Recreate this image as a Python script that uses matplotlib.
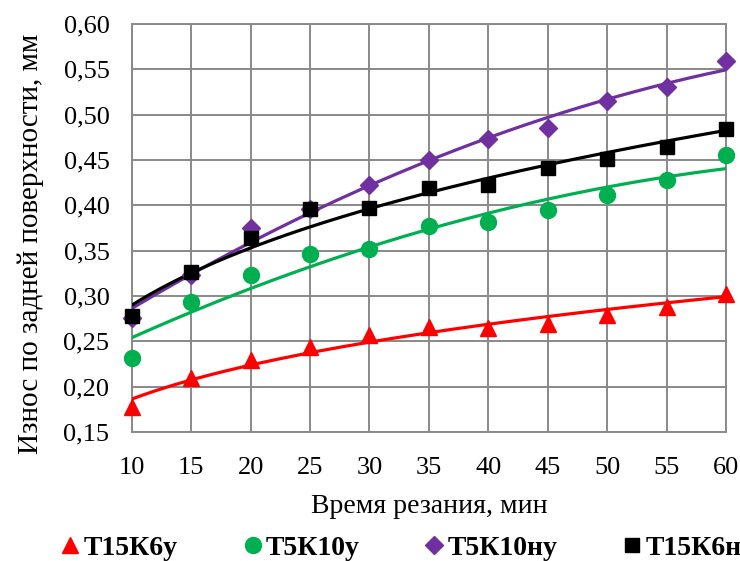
import numpy as np
import matplotlib
matplotlib.use('Agg')
import matplotlib.pyplot as plt
from matplotlib.ticker import FuncFormatter

plt.rcParams['font.family'] = ['Liberation Serif', 'DejaVu Serif']

time_min = [10, 15, 20, 25, 30, 35, 40, 45, 50, 55, 60]
t15k6u = [0.178, 0.210, 0.229, 0.244, 0.257, 0.266, 0.265, 0.269, 0.279, 0.288, 0.302]
t5k10u = [0.232, 0.293, 0.323, 0.346, 0.352, 0.377, 0.382, 0.395, 0.411, 0.428, 0.456]
t5k10nu = [0.276, 0.323, 0.375, 0.396, 0.422, 0.450, 0.473, 0.485, 0.515, 0.531, 0.559]
t15k6nu = [0.278, 0.326, 0.364, 0.396, 0.397, 0.419, 0.422, 0.441, 0.451, 0.464, 0.484]

names = ['Т15К6у', 'Т5К10у', 'Т5К10ну', 'Т15К6ну']
colors = ['#FF0000', '#00B050', '#7030A0', '#000000']
markers = ['^', 'o', 'D', 's']
msizes = [11, 11.5, 9, 10]
fits = ['power', 'poly2', 'poly2', 'power']   # trend line type per series
series = [t15k6u, t5k10u, t5k10nu, t15k6nu]

fig = plt.figure(figsize=(7.4, 5.61), dpi=100)
ax = fig.add_axes([0.178, 0.23, 0.803, 0.727])

x = np.array(time_min, dtype=float)
xs = np.linspace(10, 60, 200)
for vals, c, f in zip(series, colors, fits):
    y = np.array(vals)
    if f == 'power':
        b, a = np.polyfit(np.log(x), np.log(y), 1)
        ys = np.exp(a) * xs ** b
    else:
        ys = np.polyval(np.polyfit(x, y, 2), xs)
    ax.plot(xs, ys, color=c, lw=2.3, zorder=3)

handles = []
for vals, c, m, ms, n in zip(series, colors, markers, msizes, names):
    h, = ax.plot(time_min, vals, ls='none', marker=m, ms=ms, color=c,
                 label=n, zorder=4, clip_on=False)
    handles.append(h)

ax.set_xlim(10, 60)
ax.set_ylim(0.15, 0.60)
ax.set_xticks(range(10, 61, 5))
ax.set_yticks(np.arange(0.15, 0.601, 0.05))
ax.yaxis.set_major_formatter(FuncFormatter(lambda v, pos: f'{v:.2f}'.replace('.', ',')))
ax.grid(True, color='#898989', lw=1.4)
ax.set_axisbelow(True)
for s in ax.spines.values():
    s.set_color('#898989')
    s.set_linewidth(1.4)
ax.tick_params(length=0, labelsize=19)
ax.tick_params(axis='y', pad=16)
ax.tick_params(axis='x', pad=18)

ax.set_xlabel('Время резания, мин', fontsize=20, labelpad=11)
ax.set_ylabel('Износ по задней поверхности, мм', fontsize=21)
ax.yaxis.set_label_coords(-0.147, 0.46)

fig.legend(handles=handles, loc='center left', bbox_to_anchor=(0.084, 0.023),
           ncol=4, frameon=False, prop={'size': 20, 'weight': 'bold'},
           borderpad=0, borderaxespad=0,
           handlelength=0.6, handletextpad=0.17, columnspacing=2.4)

fig.savefig('out.png', dpi=100)
